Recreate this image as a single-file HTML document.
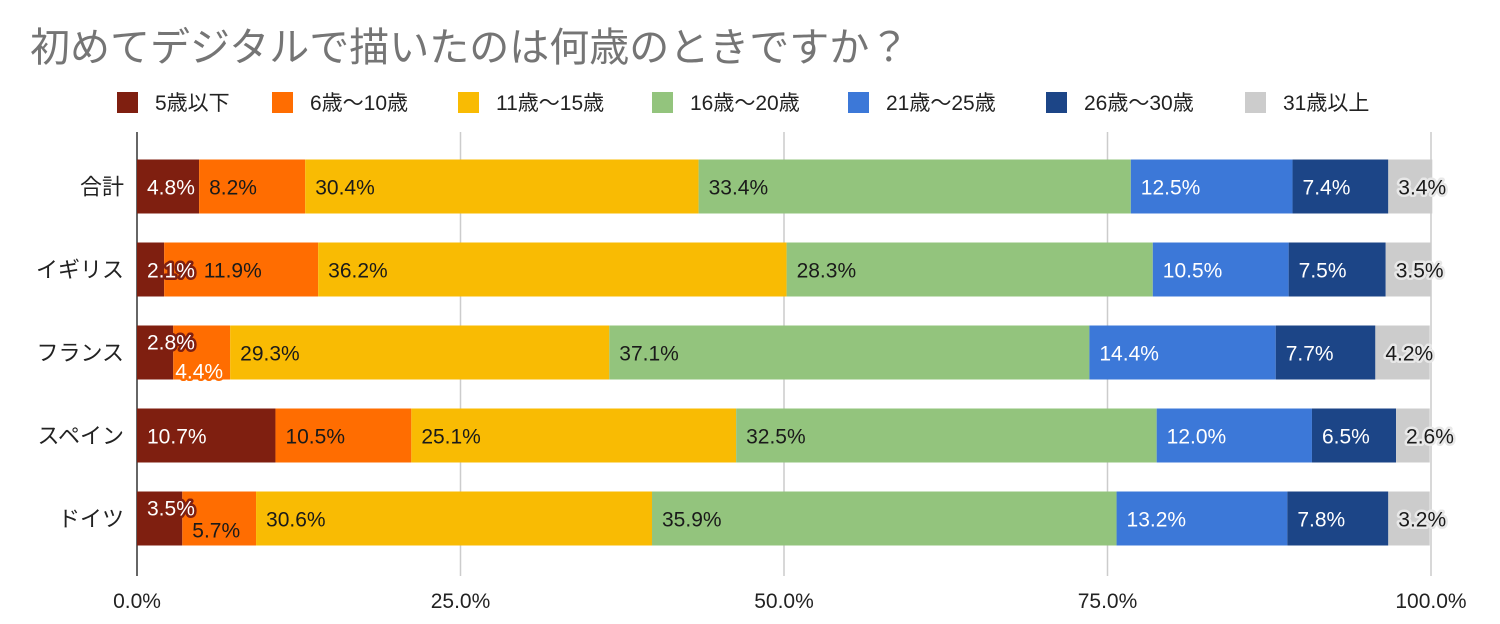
<!DOCTYPE html>
<html><head><meta charset="utf-8">
<style>
body{margin:0;background:#fff;}
svg{display:block;font-family:"Liberation Sans","Noto Sans CJK JP",sans-serif;}
</style></head>
<body>
<svg id="chart" width="1500" height="624">
<text x="30" y="61" font-size="40" fill="#757575">初めてデジタルで描いたのは何歳のときですか？</text>
<g id="legend"></g>
<g id="grid"></g>
<g id="bars"></g>
<g id="ylabels"></g>
<g id="xlabels"></g>
</svg>
<script>
const categories=["合計","イギリス","フランス","スペイン","ドイツ"];
const seriesNames=["5歳以下","6歳〜10歳","11歳〜15歳","16歳〜20歳","21歳〜25歳","26歳〜30歳","31歳以上"];
const s5=[4.8,2.1,2.8,10.7,3.5];
const s6to10=[8.2,11.9,4.4,10.5,5.7];
const s11to15=[30.4,36.2,29.3,25.1,30.6];
const s16to20=[33.4,28.3,37.1,32.5,35.9];
const s21to25=[12.5,10.5,14.4,12.0,13.2];
const s26to30=[7.4,7.5,7.7,6.5,7.8];
const s31=[3.4,3.5,4.2,2.6,3.2];
const xTicks=[0,25,50,75,100];
const xTickLabels=["0.0%","25.0%","50.0%","75.0%","100.0%"];
const series=[s5,s6to10,s11to15,s16to20,s21to25,s26to30,s31];
const colors=["#7f1f10","#ff6d01","#f9bb03","#93c47d","#3c78d8","#1c4587","#cccccc"];
const textColors=["#fff","#1a1a1a","#1a1a1a","#1a1a1a","#fff","#fff","#1a1a1a"];
const NS="http://www.w3.org/2000/svg";
const X0=137,X1=1431,Y0=145,BAND=83,BH=54,CW=12.2;
const x=v=>X0+(X1-X0)*v/100;
const yc=i=>Y0+BAND*i+BAND/2;
function mk(tag,attrs,parent){const e=document.createElementNS(NS,tag);for(const k in attrs)e.setAttribute(k,attrs[k]);parent.appendChild(e);return e;}
const lg=document.getElementById('legend');
const legX=[117,272,458,652,848,1046,1245];
seriesNames.forEach((n,i)=>{
  const r=mk('rect',{x:legX[i],y:92,width:21,height:21,fill:colors[i]},lg);
  
  
  const t=mk('text',{x:legX[i]+38,y:110,'font-size':21,fill:'#222'},lg);
  t.textContent=n;
  
  
});
const gg=document.getElementById('grid');
const xl=document.getElementById('xlabels');
xTicks.forEach((v,i)=>{
  const l=mk('line',{x1:x(v),x2:x(v),y1:132,y2:576,stroke:i==0?'#333':'#ccc','stroke-width':1.5},gg);
  
  
  const t=mk('text',{x:x(v),y:608,'font-size':21,fill:'#222','text-anchor':'middle'},xl);
  t.textContent=xTickLabels[i];
  
  
});
const bg=document.getElementById('bars');
const yl=document.getElementById('ylabels');
categories.forEach((c,ci)=>{
  const t=mk('text',{x:124,y:yc(ci)+8,'font-size':22,fill:'#222','text-anchor':'end'},yl);
  t.textContent=c;
  
  
  let acc=0;const labels=[];
  series.forEach((s,si)=>{
    const v=s[ci];
    const r=mk('rect',{x:x(acc),y:yc(ci)-BH/2,width:x(acc+v)-x(acc),height:BH,fill:colors[si]},bg);
    
    
    labels.push({x:x(acc)+10,w:x(acc+v)-x(acc),si:si,txt:v.toFixed(1)+'%',dy:0});
    acc+=v;
  });
  for(let k=1;k<labels.length;k++){
    const p=labels[k-1],L=labels[k];
    const pEnd=p.x+p.txt.length*CW;
    if(L.x<pEnd+4){
      if(L.w>100){L.x=pEnd+8;}else{p.dy=-11;L.dy=(L.w<65?18:11);if(L.w<65)L.x-=8;}
    }
  }
  labels.forEach(L=>{
    const narrow=L.w<L.txt.length*CW+14;
    const t=mk('text',{x:L.x,y:yc(ci)+8+L.dy,'font-size':21,fill:textColors[L.si]},bg);
    if(narrow){
      t.setAttribute('stroke',L.si==6?'#e8e8e8':colors[L.si]);
      t.setAttribute('stroke-width','5');
      t.setAttribute('paint-order','stroke');
      t.setAttribute('stroke-linejoin','round');
      if(L.si<2)t.setAttribute('fill','#fff');
    }
    t.textContent=L.txt;
    
    
  });
});
</script>
</body></html>
